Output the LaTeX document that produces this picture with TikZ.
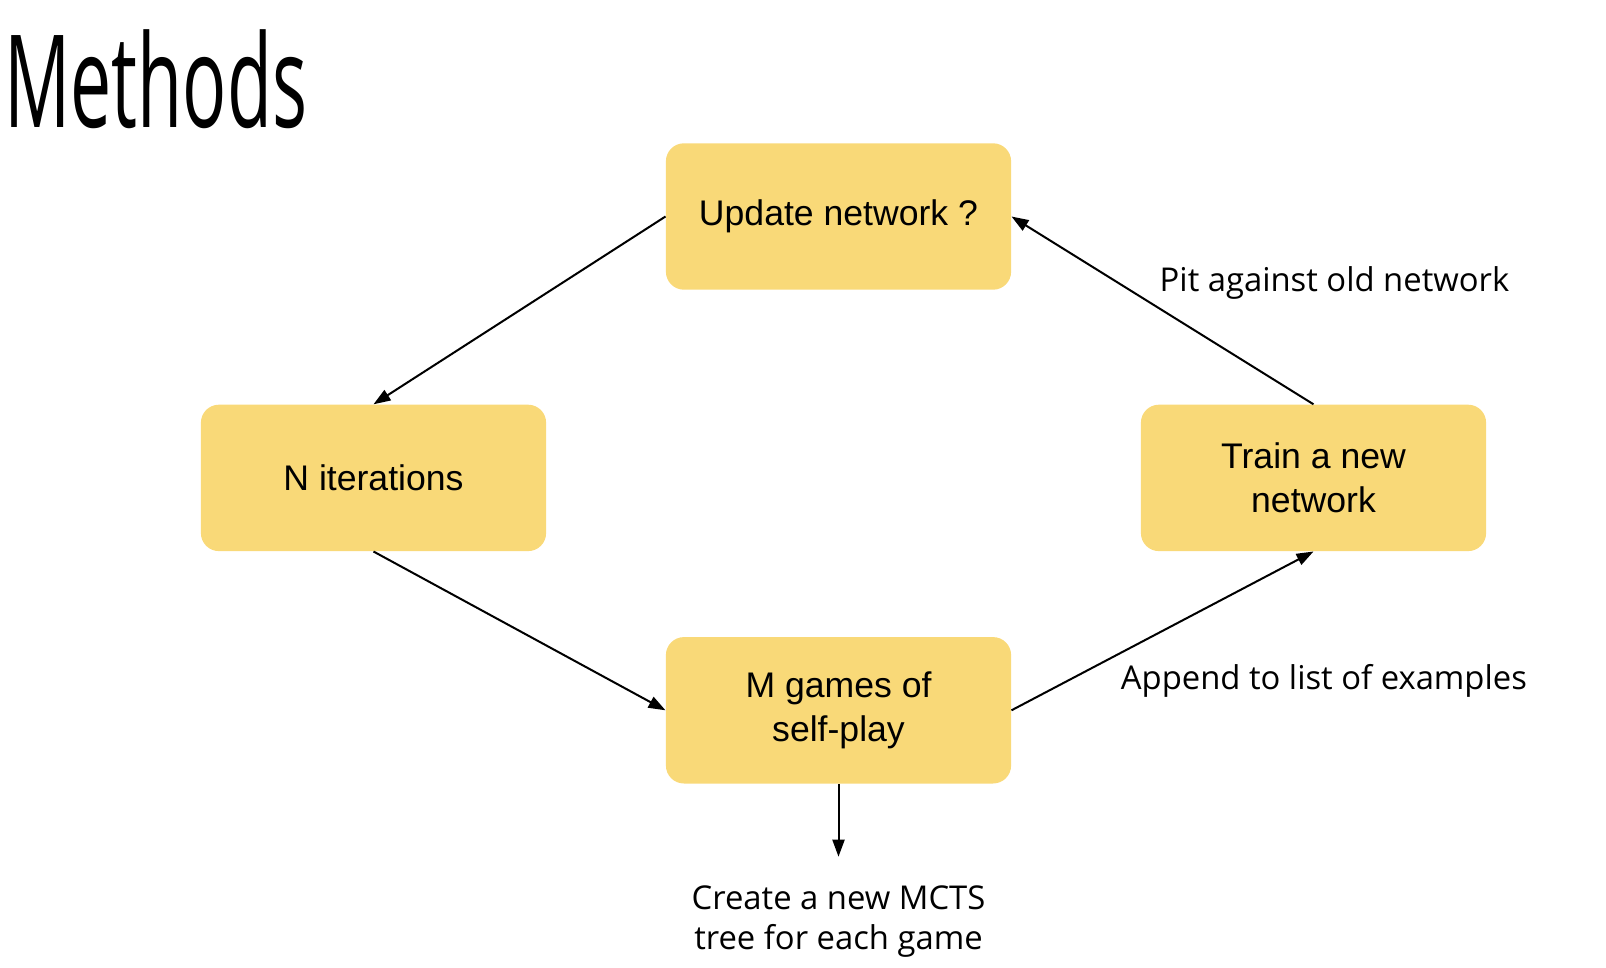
\documentclass[tikz,border=0pt]{standalone}
\usepackage{fontspec}
\setmainfont{Liberation Sans}
\newfontfamily\notefont{Open Sans}
\newfontfamily\titlefont[FakeStretch=0.57]{Open Sans}
\usetikzlibrary{arrows.meta,positioning}
\definecolor{boxyellow}{RGB}{249,217,120}

\begin{document}
\begin{tikzpicture}[x=1pt,y=1pt]
		\tikzstyle{main}=[rectangle, rounded corners=9pt, fill=boxyellow, minimum width=172.6pt, minimum height=73.2pt, align=center, font=\fontsize{17.8}{22}\selectfont, on grid]
		\tikzstyle{connect}=[line width=1pt, -{Triangle[length=8.5pt,width=6pt]}]
		\tikzstyle{note}=[font=\notefont\fontsize{16.4}{20}\selectfont, align=center, inner sep=0pt, on grid]
		\useasboundingbox (0,0) rectangle (803,-484);
		\node[anchor=base west, inner sep=0pt, font=\titlefont\fontsize{64.4}{70}\selectfont] (title) at (2,-64) {Methods};
		
		\node[main]                   (u) at (419.25,-108.25) {Update network ?};
		\node[main]                   (n) [below left=130.7pt and 232.5pt of u] {N iterations};
		\node[main]                   (t) [below right=130.7pt and 237.5pt of u] {Train a new\\network};
		\node[main]                   (m) [below=246.9pt of u] {M games of\\self-play};
		\node[coordinate]             (c) [below=36.4pt of m.south] {};
		
		\node[note]                   (pit) [above right=97.7pt and 10.5pt of t] {Pit against old network};
		\node[note]                   (app) [below right=101.5pt and 5.2pt of t] {Append to list of examples};
		\node[note]                   (mcts) [below=14.4pt of c] {Create a new MCTS\\tree for each game};
		
		\path 
		(u.west) edge [connect] (n.north)
		(n.south) edge [connect] (m.west)
		(m.east) edge [connect] (t.south)
		(t.north) edge [connect] (u.east)
		(m.south) edge [connect] (c)
		;
		
		\end{tikzpicture}
\end{document}
